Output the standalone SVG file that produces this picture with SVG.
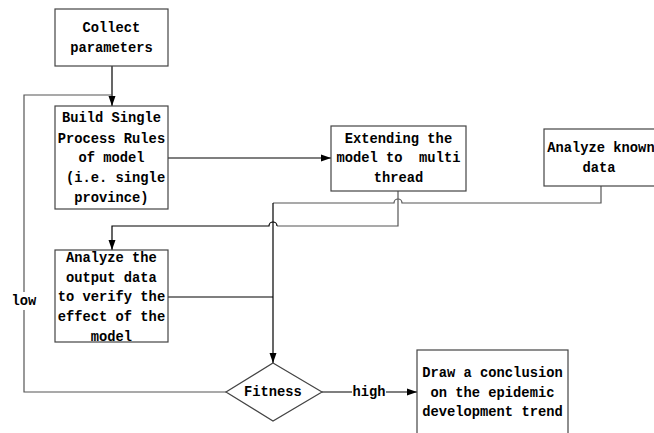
<svg xmlns="http://www.w3.org/2000/svg" width="654" height="433" viewBox="0 0 654 433">
<defs>
<marker id="arr" markerWidth="10" markerHeight="8" refX="10" refY="4" orient="auto" markerUnits="userSpaceOnUse">
<path d="M0,0.5 L10,4 L0,7.5 Z" fill="#000"/>
</marker>
<style>
.box{fill:#fff;stroke:#444;stroke-width:1.2}
.t{font-family:"Liberation Mono","DejaVu Sans Mono",monospace;font-size:13.75px;font-weight:bold;fill:#000;text-anchor:middle;dominant-baseline:central;white-space:pre}
.c{fill:none;stroke:#000;stroke-width:1.2}
.g{fill:none;stroke:#555;stroke-width:1.2}
</style>
</defs>
<rect width="654" height="433" fill="#fff"/>
<g id="connectors">
<path class="c" d="M112,66 V106" marker-end="url(#arr)"/>
<path class="g" d="M226,392 H24 V95 H112"/>
<path class="c" d="M168,158 H331" marker-end="url(#arr)"/>
<path class="g" d="M601,186 V203 H402 A4 4 0 0 0 394 203 H273"/>
<path class="c" d="M273,203 V363" marker-end="url(#arr)"/>
<path class="g" d="M398,191 V226 H277"/>
<path class="c" d="M277,226 A4 4 0 0 0 269 226 H112 V250" marker-end="url(#arr)"/>
<path class="c" d="M168,297 H273"/>
<path class="c" d="M322,392 H417" marker-end="url(#arr)"/>
<rect x="11" y="292" width="26" height="18" fill="#fff"/>
<text class="t" x="24" y="301">low</text>
<rect x="352" y="384" width="34" height="16" fill="#fff"/>
<text class="t" x="369" y="392">high</text>
</g>
<g id="collect">
<rect class="box" x="55" y="9" width="113" height="57"/>
<text class="t" x="111.5" y="28">Collect</text>
<text class="t" x="111.5" y="48">parameters</text>
</g>
<g id="build">
<rect class="box" x="55" y="106" width="113" height="103"/>
<text class="t" x="111.5" y="118">Build Single</text>
<text class="t" x="111.5" y="139">Process Rules</text>
<text class="t" x="111.5" y="158">of model</text>
<text class="t" x="111.5" y="178"> (i.e. single</text>
<text class="t" x="111.5" y="198">province)</text>
</g>
<g id="extend">
<rect class="box" x="331" y="126" width="135" height="65"/>
<text class="t" x="398.5" y="139">Extending the</text>
<text class="t" x="398.5" y="158">model to  multi</text>
<text class="t" x="398.5" y="178">thread</text>
</g>
<g id="known">
<rect class="box" x="544" y="129" width="116" height="57"/>
<text class="t" x="601" y="148">Analyze known</text>
<text class="t" x="599" y="168">data</text>
</g>
<g id="output">
<rect class="box" x="55" y="250" width="113" height="92"/>
<text class="t" x="111.5" y="258">Analyze the</text>
<text class="t" x="111.5" y="278">output data</text>
<text class="t" x="111.5" y="297">to verify the</text>
<text class="t" x="111.5" y="317">effect of the</text>
<text class="t" x="111.5" y="337">model</text>
</g>
<g id="fitness">
<polygon class="box" points="273,363 322,392 273,421 226,392"/>
<text class="t" x="273" y="392">Fitness</text>
</g>
<g id="conclusion">
<rect class="box" x="417" y="350" width="151" height="90"/>
<text class="t" x="492.5" y="373">Draw a conclusion</text>
<text class="t" x="492.5" y="393">on the epidemic</text>
<text class="t" x="492.5" y="412">development trend</text>
</g>
</svg>
